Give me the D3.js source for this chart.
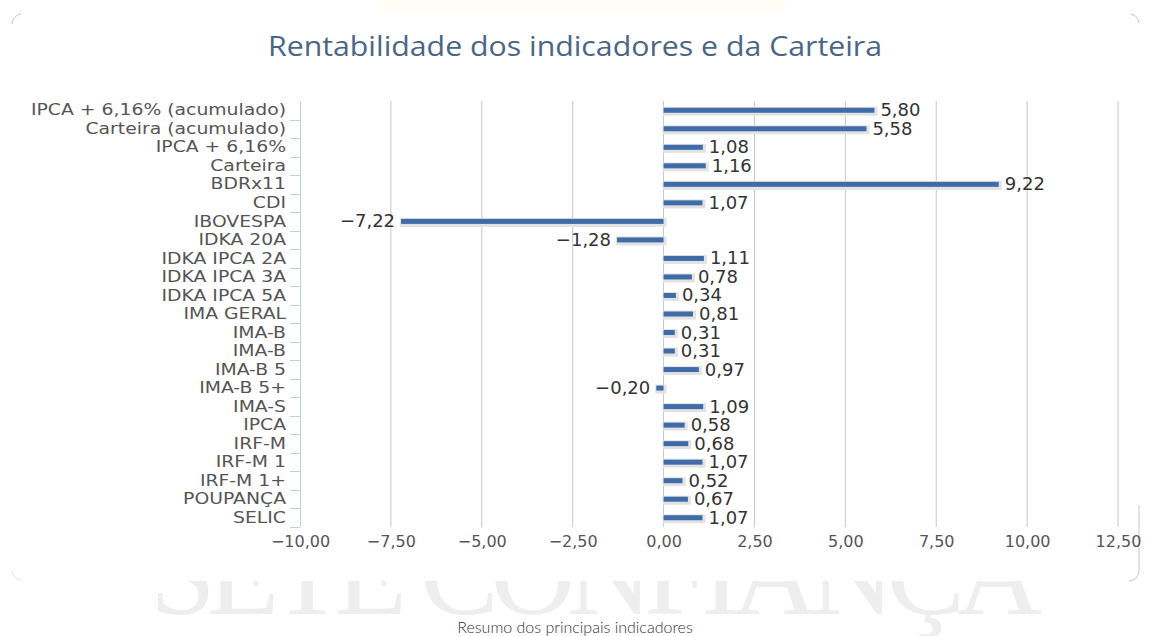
<!DOCTYPE html>
<html lang="pt">
<head>
<meta charset="UTF-8">
<title>Rentabilidade dos indicadores e da Carteira</title>
<script src="https://d3js.org/d3.v7.min.js"></script>
<style>
  body { margin: 0; background: #fff; }
  svg { display: block; }
  .cat text { font-family: "DejaVu Sans", sans-serif; font-size: 16px; fill: #555; }
  .xax text { font-family: "DejaVu Sans", sans-serif; font-size: 16px; fill: #555; }
  .val { font-family: "DejaVu Sans", sans-serif; font-size: 18px; fill: #333; }
</style>
</head>
<body>
<svg width="1150" height="636"></svg>
<script>
  // data
  const categories = [
    "IPCA + 6,16% (acumulado)", "Carteira (acumulado)", "IPCA + 6,16%", "Carteira",
    "BDRx11", "CDI", "IBOVESPA", "IDKA 20A", "IDKA IPCA 2A", "IDKA IPCA 3A",
    "IDKA IPCA 5A", "IMA GERAL", "IMA-B", "IMA-B ", "IMA-B 5", "IMA-B 5+",
    "IMA-S", "IPCA", "IRF-M", "IRF-M 1", "IRF-M 1+", "POUPANÇA", "SELIC"
  ];
  const values = [5.80, 5.58, 1.08, 1.16, 9.22, 1.07, -7.22, -1.28, 1.11, 0.78,
    0.34, 0.81, 0.31, 0.31, 0.97, -0.20, 1.09, 0.58, 0.68, 1.07, 0.52, 0.67, 1.07];
  const xTicks = [-10, -7.5, -5, -2.5, 0, 2.5, 5, 7.5, 10, 12.5];

  const fmt = v => d3.format(".2f")(v).replace(".", ",").replace("-", "\u2212");
  const data = categories.map((c, i) => ({ cat: c, value: values[i] }));

  const svg = d3.select("svg");
  const plot = { left: 300, right: 1118, top: 101, bottom: 527 };

  // faint logo blob and watermark behind the card
  svg.append("ellipse").attr("cx", 582).attr("cy", 0).attr("rx", 205).attr("ry", 40)
    .attr("fill", "#fffdf6");
  svg.append("text")
    .attr("x", 150).attr("y", 614)
    .attr("textLength", 892).attr("lengthAdjust", "spacing")
    .style("font-family", "'Liberation Serif', serif").style("font-size", "118px")
    .style("fill", "#eeeeee")
    .text("SETE CONFIANÇA");

  // card
  svg.append("rect").attr("x", 12).attr("y", 13).attr("width", 1128).attr("height", 568)
    .attr("rx", 10).attr("fill", "#fff");
  const corner = "#c8c8c8";
  svg.append("path").attr("d", "M12,24 A10,10 0 0 1 21,14").attr("fill", "none").attr("stroke", corner);
  svg.append("path").attr("d", "M1131,14 A10,10 0 0 1 1139,23").attr("fill", "none").attr("stroke", corner);
  svg.append("path").attr("d", "M1139,505 L1139,571 A10,10 0 0 1 1129,581").attr("fill", "none").attr("stroke", corner);
  svg.append("path").attr("d", "M12,570 A10,10 0 0 0 21,580").attr("fill", "none").attr("stroke", "#e2e2e2");

  svg.append("text")
    .attr("x", 575).attr("y", 56)
    .attr("text-anchor", "middle")
    .attr("textLength", 614).attr("lengthAdjust", "spacingAndGlyphs")
    .style("font-family", "'Open Sans', sans-serif").style("font-size", "27px")
    .style("fill", "#4b6685")
    .text("Rentabilidade dos indicadores e da Carteira");

  const x = d3.scaleLinear().domain([-10, 12.5]).range([plot.left, plot.right]);
  const y = d3.scaleBand().domain(categories).range([plot.top, plot.bottom]);

  // vertical grid
  svg.append("g").selectAll("line").data(xTicks.slice(1)).join("line")
    .attr("x1", d => x(d)).attr("x2", d => x(d))
    .attr("y1", plot.top).attr("y2", plot.bottom)
    .attr("stroke", "#c6c6c6").attr("stroke-width", 1);

  // bottom tick labels
  const xAxis = svg.append("g").attr("class", "xax")
    .attr("transform", `translate(0,${plot.bottom})`)
    .call(d3.axisBottom(x).tickValues(xTicks).tickFormat(fmt).tickSize(0).tickPadding(6));
  xAxis.select(".domain").remove();
  xAxis.selectAll("text").attr("dy", "0.9em");

  // category axis (labels drawn a bit wider, like the reference font)
  const yAxis = svg.append("g").attr("class", "cat")
    .attr("transform", `translate(${plot.left},0)`)
    .call(d3.axisLeft(y).tickSize(0).tickPadding(14));
  yAxis.select(".domain").attr("stroke", "#c0d0e0").attr("d", `M0.5,${plot.top}V${plot.bottom}`);
  const catText = yAxis.selectAll("text").text(d => d.trim());
  const k = 255 / catText.node().getComputedTextLength();
  catText.each(function () {
    d3.select(this).attr("textLength", this.getComputedTextLength() * k)
      .attr("lengthAdjust", "spacingAndGlyphs");
  });
  svg.append("g").selectAll("line").data(categories).join("line")
    .attr("x1", plot.left - 10).attr("x2", plot.left)
    .attr("y1", (d, i) => Math.round(plot.top + y.step() * (i + 1)) + 0.5)
    .attr("y2", (d, i) => Math.round(plot.top + y.step() * (i + 1)) + 0.5)
    .attr("stroke", "#c0d0e0");

  // bars with shadow
  const bh = 5;
  const bars = svg.append("g");
  bars.selectAll("rect.sh").data(data).join("rect").attr("class", "sh")
    .attr("x", d => Math.min(x(0), x(d.value)) - 1)
    .attr("y", d => y(d.cat) + y.bandwidth() / 2 - bh / 2 - 1)
    .attr("width", d => Math.abs(x(d.value) - x(0)) + 4)
    .attr("height", bh + 4)
    .attr("fill", "#e2e2e2");
  bars.selectAll("rect.bar").data(data).join("rect").attr("class", "bar")
    .attr("x", d => Math.min(x(0), x(d.value)))
    .attr("y", d => y(d.cat) + y.bandwidth() / 2 - bh / 2)
    .attr("width", d => Math.max(2, Math.abs(x(d.value) - x(0))))
    .attr("height", bh)
    .attr("fill", "#3f6ca8");

  // value labels
  svg.append("g").selectAll("text").data(data).join("text").attr("class", "val")
    .attr("x", d => d.value >= 0 ? x(d.value) + 6 : x(d.value) - 6)
    .attr("y", d => y(d.cat) + y.bandwidth() / 2 + 6)
    .attr("text-anchor", d => d.value >= 0 ? "start" : "end")
    .text(d => fmt(d.value));

  svg.append("text")
    .attr("x", 575).attr("y", 633)
    .attr("text-anchor", "middle")
    .style("font-family", "Lato, sans-serif").style("font-size", "16px").style("font-weight", 300)
    .style("fill", "#333")
    .text("Resumo dos principais indicadores");
</script>
</body>
</html>
